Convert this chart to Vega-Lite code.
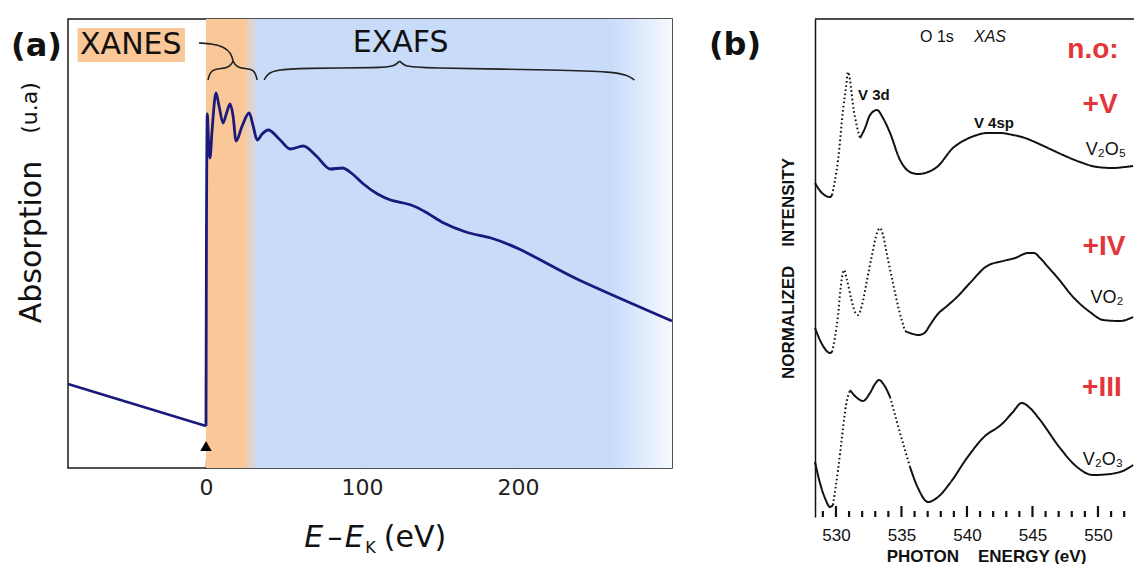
{
  "$schema": "https://vega.github.io/schema/vega-lite/v6.json",
  "padding": {"left": 10, "top": 18, "right": 0, "bottom": 0},
  "background": "white",
  "spacing": 143,
  "bounds": "flush",
  "config": {"view": {"stroke": null}, "axis": {"grid": false}, "font": "DejaVu Sans"},
  "datasets": {
    "specA": [
      {"x": -88.46, "y": 84, "part": "pre"}, {"x": 0, "y": 42, "part": "pre"},
      {"x": 0, "y": 42, "part": "post"}, {"x": 0.26, "y": 217, "part": "post"}, {"x": 0.84, "y": 354, "part": "post"},
      {"x": 1.61, "y": 327, "part": "post"}, {"x": 2.57, "y": 310, "part": "post"}, {"x": 3.86, "y": 337, "part": "post"},
      {"x": 6.43, "y": 375, "part": "post"}, {"x": 8.36, "y": 362, "part": "post"}, {"x": 10.93, "y": 345, "part": "post"},
      {"x": 13.2, "y": 355, "part": "post"}, {"x": 15.43, "y": 364, "part": "post"}, {"x": 17.36, "y": 352, "part": "post"},
      {"x": 19.29, "y": 327, "part": "post"}, {"x": 23.15, "y": 342, "part": "post"}, {"x": 27.65, "y": 355, "part": "post"},
      {"x": 30.23, "y": 342, "part": "post"}, {"x": 32.8, "y": 328, "part": "post"}, {"x": 36.0, "y": 334, "part": "post"},
      {"x": 39.87, "y": 338, "part": "post"}, {"x": 46.95, "y": 329, "part": "post"}, {"x": 54.02, "y": 319, "part": "post"},
      {"x": 62.38, "y": 322, "part": "post"}, {"x": 70.74, "y": 312, "part": "post"}, {"x": 79.74, "y": 299, "part": "post"},
      {"x": 87.46, "y": 300, "part": "post"}, {"x": 93.89, "y": 294, "part": "post"}, {"x": 100.96, "y": 284, "part": "post"},
      {"x": 109.97, "y": 274, "part": "post"}, {"x": 118.33, "y": 268, "part": "post"}, {"x": 126.69, "y": 265, "part": "post"},
      {"x": 133.12, "y": 262, "part": "post"}, {"x": 139.55, "y": 257, "part": "post"}, {"x": 152.41, "y": 245, "part": "post"},
      {"x": 166.56, "y": 236, "part": "post"}, {"x": 182.64, "y": 230, "part": "post"}, {"x": 240.51, "y": 187, "part": "post"},
      {"x": 298.7, "y": 147, "part": "post"}
    ],
    "braces": [
      {"piece": "xl", "i": 1, "x": 1.29, "y": 388}, {"piece": "xl", "i": 2, "x": 2.57, "y": 396}, {"piece": "xl", "i": 3, "x": 5.79, "y": 399},
      {"piece": "xl", "i": 4, "x": 13.5, "y": 400}, {"piece": "xl", "i": 5, "x": 16.08, "y": 403}, {"piece": "xl", "i": 6, "x": 17.36, "y": 407},
      {"piece": "xr", "i": 1, "x": 17.36, "y": 407}, {"piece": "xr", "i": 2, "x": 18.65, "y": 403}, {"piece": "xr", "i": 3, "x": 21.22, "y": 400},
      {"piece": "xr", "i": 4, "x": 28.94, "y": 399}, {"piece": "xr", "i": 5, "x": 31.51, "y": 396}, {"piece": "xr", "i": 6, "x": 32.8, "y": 388},
      {"piece": "xc", "i": 1, "x": 17.36, "y": 407}, {"piece": "xc", "i": 2, "x": 16.08, "y": 415}, {"piece": "xc", "i": 3, "x": 11.58, "y": 421},
      {"piece": "xc", "i": 4, "x": 4.5, "y": 424}, {"piece": "xc", "i": 5, "x": -4.5, "y": 425},
      {"piece": "el", "i": 1, "x": 37.3, "y": 388}, {"piece": "el", "i": 2, "x": 39.23, "y": 394}, {"piece": "el", "i": 3, "x": 45.02, "y": 398},
      {"piece": "el", "i": 4, "x": 60.45, "y": 400}, {"piece": "el", "i": 5, "x": 113.83, "y": 400}, {"piece": "el", "i": 6, "x": 120.9, "y": 402},
      {"piece": "el", "i": 7, "x": 124.12, "y": 407},
      {"piece": "er", "i": 1, "x": 124.12, "y": 407}, {"piece": "er", "i": 2, "x": 127.33, "y": 402}, {"piece": "er", "i": 3, "x": 134.41, "y": 400},
      {"piece": "er", "i": 4, "x": 232.15, "y": 398}, {"piece": "er", "i": 5, "x": 259.81, "y": 396}, {"piece": "er", "i": 6, "x": 270.1, "y": 393},
      {"piece": "er", "i": 7, "x": 274.6, "y": 388}
    ],
    "specB": [
      {"x": 528.40, "y": 334, "g": "a1", "st": "solid"}, {"x": 528.93, "y": 324, "g": "a1", "st": "solid"}, {"x": 529.55, "y": 320, "g": "a1", "st": "solid"}, {"x": 529.70, "y": 322, "g": "a1", "st": "solid"},
      {"x": 529.70, "y": 322, "g": "a2", "st": "dotted"}, {"x": 530.16, "y": 357, "g": "a2", "st": "dotted"}, {"x": 530.54, "y": 407, "g": "a2", "st": "dotted"}, {"x": 530.77, "y": 430, "g": "a2", "st": "dotted"},
      {"x": 530.92, "y": 445, "g": "a2", "st": "dotted"}, {"x": 531.07, "y": 437, "g": "a2", "st": "dotted"}, {"x": 531.30, "y": 412, "g": "a2", "st": "dotted"}, {"x": 531.61, "y": 390, "g": "a2", "st": "dotted"},
      {"x": 531.84, "y": 379, "g": "a2", "st": "dotted"},
      {"x": 531.84, "y": 379, "g": "a3", "st": "solid"}, {"x": 532.22, "y": 389, "g": "a3", "st": "solid"}, {"x": 532.60, "y": 402, "g": "a3", "st": "solid"}, {"x": 533.13, "y": 407, "g": "a3", "st": "solid"},
      {"x": 533.59, "y": 399, "g": "a3", "st": "solid"}, {"x": 534.13, "y": 384, "g": "a3", "st": "solid"}, {"x": 534.89, "y": 357, "g": "a3", "st": "solid"}, {"x": 535.65, "y": 345, "g": "a3", "st": "solid"},
      {"x": 536.26, "y": 343, "g": "a3", "st": "solid"}, {"x": 537.03, "y": 345, "g": "a3", "st": "solid"}, {"x": 537.71, "y": 350, "g": "a3", "st": "solid"}, {"x": 538.93, "y": 369, "g": "a3", "st": "solid"},
      {"x": 539.85, "y": 377, "g": "a3", "st": "solid"}, {"x": 540.77, "y": 382, "g": "a3", "st": "solid"}, {"x": 541.53, "y": 384, "g": "a3", "st": "solid"}, {"x": 542.52, "y": 384, "g": "a3", "st": "solid"},
      {"x": 543.52, "y": 382, "g": "a3", "st": "solid"}, {"x": 544.43, "y": 379, "g": "a3", "st": "solid"}, {"x": 545.35, "y": 374, "g": "a3", "st": "solid"}, {"x": 546.34, "y": 368, "g": "a3", "st": "solid"},
      {"x": 547.33, "y": 362, "g": "a3", "st": "solid"}, {"x": 548.63, "y": 355, "g": "a3", "st": "solid"}, {"x": 549.93, "y": 350, "g": "a3", "st": "solid"}, {"x": 551.15, "y": 349, "g": "a3", "st": "solid"},
      {"x": 552.06, "y": 350, "g": "a3", "st": "solid"}, {"x": 552.68, "y": 351, "g": "a3", "st": "solid"},

      {"x": 528.40, "y": 189, "g": "b1", "st": "solid"}, {"x": 528.93, "y": 173, "g": "b1", "st": "solid"}, {"x": 529.55, "y": 164, "g": "b1", "st": "solid"}, {"x": 529.70, "y": 165, "g": "b1", "st": "solid"},
      {"x": 529.70, "y": 165, "g": "b2", "st": "dotted"}, {"x": 530.16, "y": 202, "g": "b2", "st": "dotted"}, {"x": 530.38, "y": 232, "g": "b2", "st": "dotted"}, {"x": 530.61, "y": 247, "g": "b2", "st": "dotted"},
      {"x": 530.84, "y": 237, "g": "b2", "st": "dotted"}, {"x": 531.15, "y": 219, "g": "b2", "st": "dotted"}, {"x": 531.45, "y": 205, "g": "b2", "st": "dotted"}, {"x": 531.68, "y": 202, "g": "b2", "st": "dotted"},
      {"x": 531.99, "y": 212, "g": "b2", "st": "dotted"}, {"x": 532.37, "y": 237, "g": "b2", "st": "dotted"}, {"x": 532.75, "y": 262, "g": "b2", "st": "dotted"}, {"x": 533.13, "y": 284, "g": "b2", "st": "dotted"},
      {"x": 533.36, "y": 289, "g": "b2", "st": "dotted"}, {"x": 533.59, "y": 282, "g": "b2", "st": "dotted"}, {"x": 533.90, "y": 262, "g": "b2", "st": "dotted"}, {"x": 534.35, "y": 234, "g": "b2", "st": "dotted"},
      {"x": 534.81, "y": 207, "g": "b2", "st": "dotted"}, {"x": 535.27, "y": 186, "g": "b2", "st": "dotted"},
      {"x": 535.27, "y": 186, "g": "b3", "st": "solid"}, {"x": 535.88, "y": 183, "g": "b3", "st": "solid"}, {"x": 536.3, "y": 182, "g": "b3", "st": "solid"}, {"x": 536.75, "y": 184, "g": "b3", "st": "solid"}, {"x": 537.18, "y": 192, "g": "b3", "st": "solid"},
      {"x": 537.71, "y": 202, "g": "b3", "st": "solid"}, {"x": 538.48, "y": 211, "g": "b3", "st": "solid"}, {"x": 539.24, "y": 220, "g": "b3", "st": "solid"}, {"x": 540.23, "y": 234, "g": "b3", "st": "solid"},
      {"x": 541.53, "y": 251, "g": "b3", "st": "solid"}, {"x": 542.75, "y": 256, "g": "b3", "st": "solid"}, {"x": 543.67, "y": 259, "g": "b3", "st": "solid"}, {"x": 544.66, "y": 264, "g": "b3", "st": "solid"},
      {"x": 545.12, "y": 264, "g": "b3", "st": "solid"}, {"x": 545.58, "y": 259, "g": "b3", "st": "solid"}, {"x": 546.19, "y": 250, "g": "b3", "st": "solid"}, {"x": 546.87, "y": 240, "g": "b3", "st": "solid"},
      {"x": 548.10, "y": 220, "g": "b3", "st": "solid"}, {"x": 549.39, "y": 205, "g": "b3", "st": "solid"}, {"x": 550.39, "y": 197, "g": "b3", "st": "solid"}, {"x": 551.68, "y": 196, "g": "b3", "st": "solid"},
      {"x": 552.68, "y": 200, "g": "b3", "st": "solid"},

      {"x": 528.40, "y": 55, "g": "c1", "st": "solid"}, {"x": 528.78, "y": 34, "g": "c1", "st": "solid"}, {"x": 529.16, "y": 19, "g": "c1", "st": "solid"}, {"x": 529.55, "y": 10, "g": "c1", "st": "solid"},
      {"x": 529.77, "y": 12, "g": "c1", "st": "solid"},
      {"x": 529.77, "y": 12, "g": "c2", "st": "dotted"}, {"x": 530.16, "y": 47, "g": "c2", "st": "dotted"}, {"x": 530.46, "y": 80, "g": "c2", "st": "dotted"}, {"x": 530.77, "y": 112, "g": "c2", "st": "dotted"},
      {"x": 531.07, "y": 127, "g": "c2", "st": "dotted"},
      {"x": 531.07, "y": 127, "g": "c3", "st": "solid"}, {"x": 531.53, "y": 120, "g": "c3", "st": "solid"}, {"x": 532.06, "y": 116, "g": "c3", "st": "solid"}, {"x": 532.60, "y": 124, "g": "c3", "st": "solid"},
      {"x": 532.98, "y": 133, "g": "c3", "st": "solid"}, {"x": 533.29, "y": 137, "g": "c3", "st": "solid"}, {"x": 533.67, "y": 132, "g": "c3", "st": "solid"}, {"x": 534.13, "y": 120, "g": "c3", "st": "solid"},
      {"x": 534.13, "y": 120, "g": "c4", "st": "dotted"}, {"x": 534.51, "y": 102, "g": "c4", "st": "dotted"}, {"x": 534.89, "y": 84, "g": "c4", "st": "dotted"}, {"x": 535.27, "y": 67, "g": "c4", "st": "dotted"},
      {"x": 535.65, "y": 50, "g": "c4", "st": "dotted"},
      {"x": 535.65, "y": 50, "g": "c5", "st": "solid"}, {"x": 536.26, "y": 29, "g": "c5", "st": "solid"}, {"x": 537.03, "y": 15, "g": "c5", "st": "solid"}, {"x": 537.79, "y": 20, "g": "c5", "st": "solid"},
      {"x": 538.71, "y": 34, "g": "c5", "st": "solid"}, {"x": 540.00, "y": 59, "g": "c5", "st": "solid"}, {"x": 541.22, "y": 79, "g": "c5", "st": "solid"}, {"x": 542.75, "y": 94, "g": "c5", "st": "solid"},
      {"x": 543.44, "y": 104, "g": "c5", "st": "solid"}, {"x": 544.20, "y": 114, "g": "c5", "st": "solid"}, {"x": 544.81, "y": 109, "g": "c5", "st": "solid"}, {"x": 545.58, "y": 97, "g": "c5", "st": "solid"},
      {"x": 547.10, "y": 69, "g": "c5", "st": "solid"}, {"x": 548.40, "y": 50, "g": "c5", "st": "solid"}, {"x": 549.62, "y": 42, "g": "c5", "st": "solid"}, {"x": 550.92, "y": 43, "g": "c5", "st": "solid"},
      {"x": 552.06, "y": 47, "g": "c5", "st": "solid"}, {"x": 552.68, "y": 52, "g": "c5", "st": "solid"}
    ]
  },
  "hconcat": [
    {
      "width": 604,
      "height": 449,
      "view": {"stroke": "#1a1a1a", "strokeWidth": 1.5},
      "layer": [
        {
          "data": {"values": [{"x": 0, "x2": 298.72}]},
          "mark": {"type": "rect", "color": {"gradient": "linear", "x1": 0, "y1": 0, "x2": 1, "y2": 0, "stops": [
            {"offset": 0, "color": "#fac898"}, {"offset": 0.08, "color": "#fac898"},
            {"offset": 0.112, "color": "#c8dcfa"}, {"offset": 0.87, "color": "#c8dcfa"}, {"offset": 1, "color": "#f7f9fe"}]}},
          "encoding": {
            "x": {"field": "x", "type": "quantitative", "scale": {"domain": [-88.46, 298.72], "nice": false, "zero": false}},
            "x2": {"field": "x2"},
            "y": {"datum": 0, "type": "quantitative", "scale": {"domain": [0, 449], "nice": false, "zero": false}, "axis": null},
            "y2": {"datum": 449}
          }
        },
        {
          "data": {"values": [{"x": -82.3, "x2": -13.5, "y": 406, "y2": 440}]},
          "mark": {"type": "rect", "color": "#fac898"},
          "encoding": {
            "x": {"field": "x", "type": "quantitative", "scale": {"domain": [-88.46, 298.72], "nice": false, "zero": false}},
            "x2": {"field": "x2"},
            "y": {"field": "y", "type": "quantitative", "scale": {"domain": [0, 449], "nice": false, "zero": false}, "axis": null},
            "y2": {"field": "y2"}
          }
        },
        {
          "data": {"name": "specA"},
          "mark": {"type": "line", "interpolate": "monotone", "color": "#1b1a7c", "strokeWidth": 2.8},
          "encoding": {
            "x": {"field": "x", "type": "quantitative", "scale": {"domain": [-88.46, 298.72], "nice": false, "zero": false},
              "axis": {"values": [0, 100, 200], "title": null, "domain": false, "tickSize": -8, "tickWidth": 1.5, "tickColor": "#333",
                "labelFont": "DejaVu Sans", "labelFontSize": 22, "labelColor": "#222", "labelPadding": 17}},
            "y": {"field": "y", "type": "quantitative", "scale": {"domain": [0, 449], "nice": false, "zero": false}, "axis": null},
            "detail": {"field": "part"}
          }
        },
        {
          "data": {"name": "braces"},
          "mark": {"type": "line", "interpolate": "basis", "color": "#222", "strokeWidth": 1.6},
          "encoding": {
            "x": {"field": "x", "type": "quantitative", "scale": {"domain": [-88.46, 298.72], "nice": false, "zero": false}},
            "y": {"field": "y", "type": "quantitative", "scale": {"domain": [0, 449], "nice": false, "zero": false}, "axis": null},
            "detail": {"field": "piece"},
            "order": {"field": "i"}
          }
        },
        {
          "data": {"values": [{"x": 0, "y": 22}]},
          "mark": {"type": "point", "shape": "triangle-up", "filled": true, "color": "#000", "size": 130, "opacity": 1},
          "encoding": {
            "x": {"field": "x", "type": "quantitative", "scale": {"domain": [-88.46, 298.72], "nice": false, "zero": false}},
            "y": {"field": "y", "type": "quantitative", "scale": {"domain": [0, 449], "nice": false, "zero": false}, "axis": null}
          }
        },
        {
          "data": {"values": [{"x": -48.2, "y": 423, "t": "XANES"}, {"x": 124.8, "y": 425, "t": "EXAFS"}, {"x": 82.7, "y": -70, "t": "–"}, {"x": 134.0, "y": -70, "t": "(eV)"}]},
          "mark": {"type": "text", "font": "DejaVu Sans", "fontSize": 30, "color": "#111", "align": "center", "baseline": "middle"},
          "encoding": {
            "x": {"field": "x", "type": "quantitative", "scale": {"domain": [-88.46, 298.72], "nice": false, "zero": false}},
            "y": {"field": "y", "type": "quantitative", "scale": {"domain": [0, 449], "nice": false, "zero": false}, "axis": null},
            "text": {"field": "t"}
          }
        },
        {
          "data": {"values": [{"x": 69.0, "y": -70, "t": "E"}, {"x": 95.0, "y": -70, "t": "E"}]},
          "mark": {"type": "text", "font": "DejaVu Sans", "fontSize": 30, "fontStyle": "italic", "color": "#111", "align": "center", "baseline": "middle"},
          "encoding": {
            "x": {"field": "x", "type": "quantitative", "scale": {"domain": [-88.46, 298.72], "nice": false, "zero": false}},
            "y": {"field": "y", "type": "quantitative", "scale": {"domain": [0, 449], "nice": false, "zero": false}, "axis": null},
            "text": {"field": "t"}
          }
        },
        {
          "data": {"values": [{"x": 105.5, "y": -80, "t": "K"}]},
          "mark": {"type": "text", "font": "DejaVu Sans", "fontSize": 16, "color": "#111", "align": "center", "baseline": "middle"},
          "encoding": {
            "x": {"field": "x", "type": "quantitative", "scale": {"domain": [-88.46, 298.72], "nice": false, "zero": false}},
            "y": {"field": "y", "type": "quantitative", "scale": {"domain": [0, 449], "nice": false, "zero": false}, "axis": null},
            "text": {"field": "t"}
          }
        },
        {
          "data": {"values": [{"x": -108.7, "y": 422, "t": "(a)"}]},
          "mark": {"type": "text", "font": "DejaVu Sans", "fontSize": 32, "fontWeight": "bold", "color": "#111", "align": "center", "baseline": "middle"},
          "encoding": {
            "x": {"field": "x", "type": "quantitative", "scale": {"domain": [-88.46, 298.72], "nice": false, "zero": false}},
            "y": {"field": "y", "type": "quantitative", "scale": {"domain": [0, 449], "nice": false, "zero": false}, "axis": null},
            "text": {"field": "t"}
          }
        },
        {
          "data": {"values": [{"x": -111.3, "y": 226, "t": "Absorption"}]},
          "mark": {"type": "text", "font": "DejaVu Sans", "fontSize": 30, "angle": 270, "color": "#111", "align": "center", "baseline": "middle"},
          "encoding": {
            "x": {"field": "x", "type": "quantitative", "scale": {"domain": [-88.46, 298.72], "nice": false, "zero": false}},
            "y": {"field": "y", "type": "quantitative", "scale": {"domain": [0, 449], "nice": false, "zero": false}, "axis": null},
            "text": {"field": "t"}
          }
        },
        {
          "data": {"values": [{"x": -113.0, "y": 360, "t": "(u.a)"}]},
          "mark": {"type": "text", "font": "DejaVu Sans", "fontSize": 22, "angle": 270, "color": "#111", "align": "center", "baseline": "middle"},
          "encoding": {
            "x": {"field": "x", "type": "quantitative", "scale": {"domain": [-88.46, 298.72], "nice": false, "zero": false}},
            "y": {"field": "y", "type": "quantitative", "scale": {"domain": [0, 449], "nice": false, "zero": false}, "axis": null},
            "text": {"field": "t"}
          }
        }
      ]
    },
    {
      "width": 319,
      "height": 498,
      "layer": [
        {
          "data": {"values": [{"y": 498}]},
          "mark": {"type": "rule", "color": "#111", "strokeWidth": 1.5},
          "encoding": {
            "y": {"field": "y", "type": "quantitative", "scale": {"domain": [0, 498], "nice": false, "zero": false}}
          }
        },
        {
          "data": {"values": [{"x": 529}, {"x": 531}, {"x": 532}, {"x": 533}, {"x": 534}, {"x": 536}, {"x": 537}, {"x": 538}, {"x": 539}, {"x": 541}, {"x": 542}, {"x": 543}, {"x": 544}, {"x": 546}, {"x": 547}, {"x": 548}, {"x": 549}, {"x": 551}, {"x": 552}]},
          "mark": {"type": "rule", "color": "#111", "strokeWidth": 2.2},
          "encoding": {
            "x": {"field": "x", "type": "quantitative", "scale": {"domain": [528.4, 552.75], "nice": false, "zero": false}},
            "y": {"datum": 0, "type": "quantitative", "scale": {"domain": [0, 498], "nice": false, "zero": false}},
            "y2": {"datum": 6}
          }
        },
        {
          "data": {"values": [{"x": 530}, {"x": 535}, {"x": 540}, {"x": 545}, {"x": 550}]},
          "mark": {"type": "rule", "color": "#111", "strokeWidth": 2.2},
          "encoding": {
            "x": {"field": "x", "type": "quantitative", "scale": {"domain": [528.4, 552.75], "nice": false, "zero": false}},
            "y": {"datum": 0, "type": "quantitative", "scale": {"domain": [0, 498], "nice": false, "zero": false}},
            "y2": {"datum": 11}
          }
        },
        {
          "data": {"name": "specB"},
          "mark": {"type": "line", "interpolate": "monotone", "color": "#111", "strokeWidth": 2},
          "encoding": {
            "x": {"field": "x", "type": "quantitative", "scale": {"domain": [528.4, 552.75], "nice": false, "zero": false},
              "axis": {"values": [530, 535, 540, 545, 550], "domain": false, "ticks": false, "labelOverlap": false,
                "labelFont": "Liberation Sans", "labelFontSize": 17, "labelColor": "#111", "labelPadding": 10,
                "title": "PHOTON\u00a0\u00a0\u00a0\u00a0ENERGY (eV)", "titleFont": "Liberation Sans", "titleFontSize": 17, "titleFontWeight": "bold", "titleColor": "#111", "titlePadding": 5, "titleX": 171}},
            "y": {"field": "y", "type": "quantitative", "scale": {"domain": [0, 498], "nice": false, "zero": false},
              "axis": {"domain": true, "domainColor": "#111", "domainWidth": 1.5, "ticks": false, "labels": false,
                "title": "NORMALIZED\u00a0\u00a0\u00a0\u00a0INTENSITY", "titleFont": "Liberation Sans", "titleFontSize": 17, "titleFontWeight": "bold", "titleColor": "#111", "titlePadding": 18}},
            "detail": {"field": "g"},
            "strokeDash": {"field": "st", "type": "nominal", "scale": {"domain": ["solid", "dotted"], "range": [[1, 0], [1.6, 2.6]]}, "legend": null}
          }
        },
        {
          "data": {"values": [{"x": 522.29, "y": 472, "t": "(b)"}]},
          "mark": {"type": "text", "font": "DejaVu Sans", "fontSize": 32, "fontWeight": "bold", "color": "#111", "align": "center", "baseline": "middle"},
          "encoding": {
            "x": {"field": "x", "type": "quantitative", "scale": {"domain": [528.4, 552.75], "nice": false, "zero": false}},
            "y": {"field": "y", "type": "quantitative", "scale": {"domain": [0, 498], "nice": false, "zero": false}},
            "text": {"field": "t"}
          }
        },
        {
          "data": {"values": [{"x": 549.62, "y": 467, "t": "n.o:"}, {"x": 550.16, "y": 412, "t": "+V"}, {"x": 550.46, "y": 270, "t": "+IV"}, {"x": 550.3, "y": 129, "t": "+III"}]},
          "mark": {"type": "text", "font": "Liberation Sans", "fontSize": 28, "fontWeight": "bold", "color": "#e3363a", "align": "center", "baseline": "middle"},
          "encoding": {
            "x": {"field": "x", "type": "quantitative", "scale": {"domain": [528.4, 552.75], "nice": false, "zero": false}},
            "y": {"field": "y", "type": "quantitative", "scale": {"domain": [0, 498], "nice": false, "zero": false}},
            "text": {"field": "t"}
          }
        },
        {
          "data": {"values": [{"x": 532.9, "y": 422, "t": "V 3d"}, {"x": 542.06, "y": 394, "t": "V 4sp"}]},
          "mark": {"type": "text", "font": "Liberation Sans", "fontSize": 15, "fontWeight": "bold", "color": "#111", "align": "center", "baseline": "middle"},
          "encoding": {
            "x": {"field": "x", "type": "quantitative", "scale": {"domain": [528.4, 552.75], "nice": false, "zero": false}},
            "y": {"field": "y", "type": "quantitative", "scale": {"domain": [0, 498], "nice": false, "zero": false}},
            "text": {"field": "t"}
          }
        },
        {
          "data": {"values": [{"x": 537.71, "y": 480, "t": "O 1s"}]},
          "mark": {"type": "text", "font": "Liberation Sans", "fontSize": 16, "color": "#111", "align": "center", "baseline": "middle"},
          "encoding": {
            "x": {"field": "x", "type": "quantitative", "scale": {"domain": [528.4, 552.75], "nice": false, "zero": false}},
            "y": {"field": "y", "type": "quantitative", "scale": {"domain": [0, 498], "nice": false, "zero": false}},
            "text": {"field": "t"}
          }
        },
        {
          "data": {"values": [{"x": 541.76, "y": 480, "t": "XAS"}]},
          "mark": {"type": "text", "font": "Liberation Sans", "fontSize": 16, "fontStyle": "italic", "color": "#111", "align": "center", "baseline": "middle"},
          "encoding": {
            "x": {"field": "x", "type": "quantitative", "scale": {"domain": [528.4, 552.75], "nice": false, "zero": false}},
            "y": {"field": "y", "type": "quantitative", "scale": {"domain": [0, 498], "nice": false, "zero": false}},
            "text": {"field": "t"}
          }
        },
        {
          "data": {"values": [{"x": 550.61, "y": 367, "t": "V₂O₅"}, {"x": 550.69, "y": 219, "t": "VO₂"}, {"x": 550.38, "y": 57, "t": "V₂O₃"}]},
          "mark": {"type": "text", "font": "Liberation Sans", "fontSize": 18, "color": "#111", "align": "center", "baseline": "middle"},
          "encoding": {
            "x": {"field": "x", "type": "quantitative", "scale": {"domain": [528.4, 552.75], "nice": false, "zero": false}},
            "y": {"field": "y", "type": "quantitative", "scale": {"domain": [0, 498], "nice": false, "zero": false}},
            "text": {"field": "t"}
          }
        }
      ]
    }
  ]
}
